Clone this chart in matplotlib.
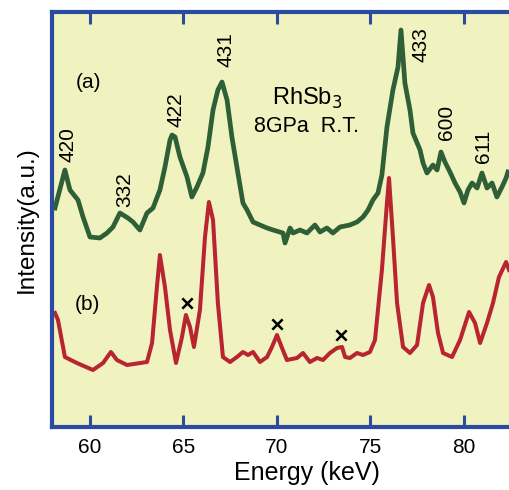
import matplotlib.pyplot as plt

plt.rcParams['font.family'] = ['Liberation Sans', 'DejaVu Sans']

# pattern (a): energy (keV), intensity (a.u.)
energy_a = [58.13, 58.66, 58.93, 59.36, 59.63, 60.00, 60.53, 60.91, 61.23, 61.60,
            62.03, 62.30, 62.67, 63.05, 63.37, 63.74, 64.01, 64.28, 64.39, 64.55,
            64.81, 65.19, 65.45, 65.72, 66.04, 66.31, 66.58, 66.84, 67.06, 67.33,
            67.59, 67.91, 68.18, 68.40, 68.72, 69.09, 69.47, 69.79, 70.32, 70.43,
            70.70, 70.86, 71.23, 71.60, 72.03, 72.30, 72.67, 72.99, 73.37, 73.90,
            74.28, 74.60, 74.87, 75.13, 75.40, 75.61, 75.88, 76.20, 76.47, 76.63,
            76.84, 77.11, 77.27, 77.65, 77.81, 78.02, 78.34, 78.56, 78.77, 78.98,
            79.25, 79.52, 79.79, 80.00, 80.21, 80.43, 80.70, 80.96, 81.23, 81.50,
            81.76, 82.03, 82.25, 82.35]
intens_a = [219, 257, 237, 227, 210, 190, 189, 194, 200, 214,
            209, 205, 197, 214, 219, 237, 260, 287, 292, 290,
            270, 250, 230, 240, 254, 280, 317, 337, 345, 327,
            290, 254, 224, 217, 205, 202, 199, 197, 194, 184,
            199, 194, 197, 194, 202, 195, 199, 194, 200, 202,
            205, 210, 217, 227, 234, 252, 300, 337, 360, 397,
            344, 317, 294, 277, 264, 254, 262, 257, 275, 265,
            255, 244, 235, 224, 237, 244, 239, 254, 239, 244,
            230, 240, 249, 255]

# pattern (b)
energy_b = [58.13, 58.29, 58.66, 59.30, 60.16, 60.70, 61.12, 61.44, 61.98, 63.05,
            63.32, 63.58, 63.74, 64.01, 64.28, 64.60, 64.92, 65.13, 65.35, 65.56,
            65.88, 66.15, 66.36, 66.58, 66.84, 67.11, 67.49, 67.86, 68.18, 68.45,
            68.72, 69.09, 69.47, 69.73, 70.00, 70.27, 70.53, 71.07, 71.39, 71.76,
            72.14, 72.46, 72.83, 73.21, 73.48, 73.64, 73.90, 74.28, 74.60, 74.97,
            75.24, 75.61, 75.88, 75.99, 76.20, 76.42, 76.74, 77.11, 77.49, 77.81,
            78.13, 78.34, 78.61, 78.88, 79.36, 79.79, 80.27, 80.59, 80.86, 81.23,
            81.55, 81.87, 82.25, 82.41]
intens_b = [114, 107, 70, 64, 57, 64, 75, 67, 62, 65,
            84, 140, 172, 140, 97, 64, 90, 112, 100, 80,
            117, 190, 225, 207, 124, 70, 65, 70, 75, 72,
            75, 65, 70, 80, 92, 79, 67, 69, 74, 65,
            69, 67, 74, 79, 80, 70, 69, 74, 72, 75,
            87, 157, 224, 249, 190, 124, 80, 74, 82, 124,
            142, 130, 94, 74, 70, 87, 115, 104, 84, 104,
            124, 150, 165, 157]

peak_labels = ['420', '332', '422', '431', '433', '600', '611']
peak_e = [58.82, 61.87, 64.6, 67.27, 77.7, 79.04, 81.02]
peak_y = [282, 237, 317, 377, 382, 305, 281]

cross_e = [65.19, 70.0, 73.42]
cross_y = [124, 103, 92]

fig = plt.figure(figsize=(5.09, 4.90), dpi=100)
# axes runs past the right edge of the picture, as in the original crop
ax = fig.add_axes([52 / 509, 63 / 490, 510 / 509, 415 / 490])
ax.set_facecolor('#f0f3c0')

ax.plot(energy_a, intens_a, color='#2e5f36', lw=3.4)
ax.plot(energy_b, intens_b, color='#b8242f', lw=2.9)

for t, e, y in zip(peak_labels, peak_e, peak_y):
    ax.text(e, y, t, rotation=90, fontsize=15, ha='center', va='center')
ax.scatter(cross_e, cross_y, marker='x', s=55, color='black', linewidths=1.8, zorder=3)

ax.text(59.9, 345, '(a)', fontsize=15, ha='center', va='center')
ax.text(59.85, 122, '(b)', fontsize=15, ha='center', va='center')
ax.text(71.6, 329, 'RhSb$_3$', fontsize=17, ha='center', va='center')
ax.text(71.6, 300, '8GPa  R.T.', fontsize=15.5, ha='center', va='center')

ax.set_xlim(57.97, 85.24)
ax.set_ylim(0, 415)
ax.set_xticks([60, 65, 70, 75, 80])
ax.set_yticks([])
ax.tick_params(axis='x', direction='in', top=True, length=8.5, width=2.2,
               color='#2a4ba0', labelsize=15, pad=8)
for s in ['left', 'bottom', 'top']:
    ax.spines[s].set_color('#2a4ba0')
    ax.spines[s].set_linewidth(3)
ax.spines['right'].set_visible(False)
ax.set_xlabel('Energy (keV)', fontsize=18, labelpad=3)
ax.set_ylabel('Intensity(a.u.)', fontsize=17.5, labelpad=10)

fig.savefig('out.png', dpi=100)
